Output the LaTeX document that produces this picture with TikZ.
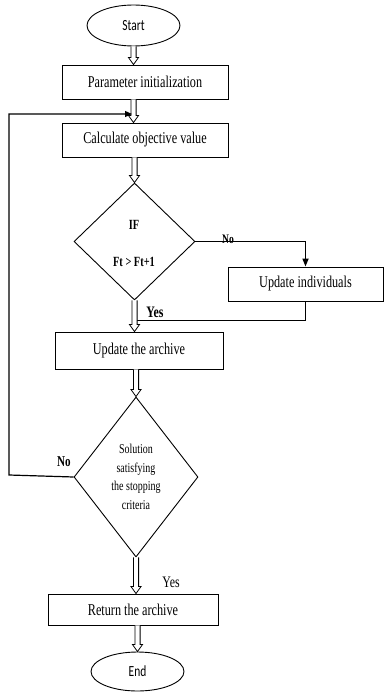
\documentclass[tikz,border=0pt]{standalone}
\usepackage{fontspec}
\setmainfont{Liberation Serif}[FakeStretch=0.74]
\newfontfamily\ssf{Carlito}[FakeStretch=0.74]
\usetikzlibrary{shapes.geometric,arrows.meta,calc}
\begin{document}
\begin{tikzpicture}[x=1pt,y=-1pt,
  box/.style={draw, line width=0.9pt, rectangle, inner sep=0pt, font=\fontsize{16.5}{18}\selectfont},
  term/.style={draw, line width=0.9pt, ellipse, inner sep=0pt, font=\ssf\fontsize{15.5}{17}\selectfont},
  dec/.style={draw, line width=0.9pt, diamond, inner sep=0pt},
  harrow/.style={draw, line width=0.8pt, fill=white, line join=miter,
    to path={let \p1=(\tikztostart), \p2=(\tikztotarget) in
      (\x1-2.6pt,\y1) -- (\x1-2.6pt,\y2+7pt) -- (\x1-5pt,\y2+7pt) -- (\x1,\y2)
      -- (\x1+5pt,\y2+7pt) -- (\x1+2.6pt,\y2+7pt) -- (\x1+2.6pt,\y1)}},
  lbl/.style={inner sep=0pt}]
\useasboundingbox (0,0) rectangle (385,692);
\node[term, minimum width=93pt, minimum height=41pt] (start) at (133.5,25.5) {Start};
\node[box, minimum width=166pt, minimum height=34pt] (param) at (145,82) {Parameter initialization};
\node[box, minimum width=166pt, minimum height=34pt] (calc) at (145,140) {Calculate objective value};
\node[dec, minimum width=121pt, minimum height=117pt] (d1) at (134.5,241.5) {};
\node[lbl, font=\bfseries\fontsize{14}{16}\selectfont] (if) at (134,225) {IF};
\node[lbl, font=\bfseries\fontsize{14}{16}\selectfont] (ft) at (134,262) {Ft > Ft+1};
\node[box, minimum width=155pt, minimum height=34pt] (upd) at (305.5,284) {Update individuals};
\node[box, minimum width=168pt, minimum height=37pt] (arch) at (139,350.5) {Update the archive};
\node[dec, minimum width=124pt, minimum height=160pt] (d2) at (136,477) {};
\node[lbl, align=center, font=\fontsize{13.5}{18.5}\selectfont] (crit) at (136,477) {Solution\\satisfying\\the stopping\\criteria};
\node[box, minimum width=170pt, minimum height=31pt] (ret) at (133,609.5) {Return the archive};
\node[term, minimum width=93pt, minimum height=39pt] (end) at (137.5,671.5) {End};
% labels
\node[lbl, font=\bfseries\fontsize{13}{15}\selectfont] (no1) at (228,239) {No};
\node[lbl, font=\bfseries\fontsize{16}{18}\selectfont] (yes1) at (155,312) {Yes};
\node[lbl, font=\bfseries\fontsize{15}{17}\selectfont] (no2) at (64,462) {No};
\node[lbl, font=\fontsize{16}{18}\selectfont] (yes2) at (171,582) {Yes};
% No branch
\draw[line width=1.6pt, -{Triangle[length=8pt,width=6pt]}] (d1.east) -| (upd.north);
\coordinate (join) at (137,320);
\draw[line width=1pt] (upd.south) |- (join);
% main hollow arrows
\path[harrow] (start.south) to (start.south |- param.north);
\path[harrow] (start.south |- param.south) to (start.south |- calc.north);
\path[harrow] (calc.south -| d1.north) to (d1.north);
\path[harrow] (d1.south) to (d1.south |- arch.north);
\path[harrow] (arch.south -| d2.north) to (d2.north);
\path[harrow] (d2.south) to (d2.south |- ret.north);
\path[harrow] (ret.south -| end.north) to (end.north);
% feedback loop
\coordinate (c1) at (9,475);
\coordinate (c2) at (9,114);
\coordinate (c3) at (132,114);
\draw[line width=1.2pt, -{Triangle[length=7pt,width=6pt]}] (d2.west) -- (c1) -- (c2) -- (c3);
\end{tikzpicture}
\end{document}
